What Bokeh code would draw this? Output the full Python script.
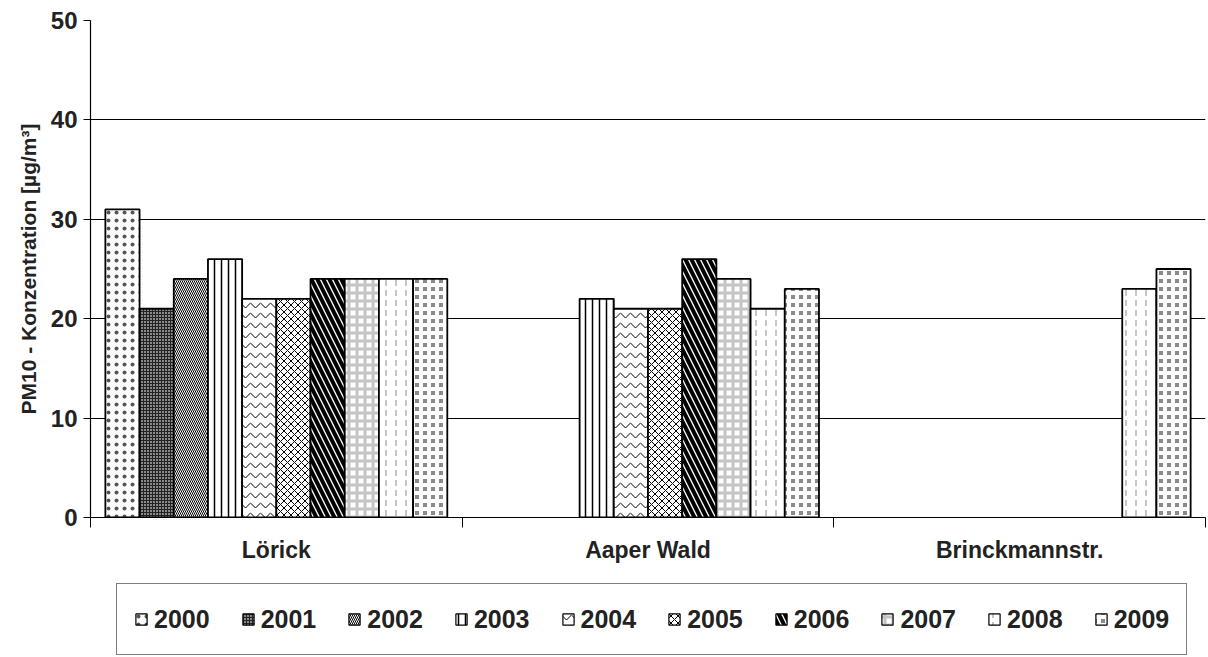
from bokeh.plotting import figure
from bokeh.layouts import column
from bokeh.models import (ColumnDataSource, Range1d, LinearAxis, FixedTicker, Legend, LegendItem)
from bokeh.transform import dodge
from bokeh.embed import file_html
from bokeh.resources import INLINE

sites = ["Lörick", "Aaper Wald", "Brinckmannstr."]
years = ["2000", "2001", "2002", "2003", "2004", "2005", "2006", "2007", "2008", "2009"]
loerick = [31, 21, 24, 26, 22, 22, 24, 24, 24, 24]
aaper_wald = [None, None, None, 22, 21, 21, 26, 24, 21, 23]
brinckmannstr = [None, None, None, None, None, None, None, None, 23, 25]
site_values = [loerick, aaper_wald, brinckmannstr]
y_ticks = [0, 10, 20, 30, 40, 50]

# fill_color, hatch_pattern, hatch_color, hatch_scale, hatch_weight
styles = [
    ("white", "dot", "#555555", 8, 1),
    ("#8a8a8a", "cross", "#222222", 3, 1),
    ("white", "left_diagonal_line", "black", 4, 1),
    ("white", "vertical_line", "black", 7, 1.5),
    ("white", "horizontal_wave", "black", 10, 1),
    ("white", "diagonal_cross", "black", 7, 1),
    ("white", "left_diagonal_line", "black", 12, 4),
    ("white", "cross", "#c4c4c4", 8, 3),
    ("white", "vertical_dash", "#a0a0a0", 10, 1.2),
    ("#8a8a8a", "cross", "white", 8, 4),
]

FONT = "Liberation Sans"
n_sites = len(sites)
centers = [i + 0.5 for i in range(n_sites)]

p = figure(width=1208, height=575, x_range=Range1d(0, n_sites),
           y_range=Range1d(0, 50), output_backend="svg", toolbar_location=None,
           x_axis_location=None, min_border_left=90, min_border_right=3, min_border_top=20,
           min_border_bottom=58)
p.outline_line_color = None
p.xgrid.grid_line_color = None
p.ygrid.grid_line_color = "black"
p.ygrid.grid_line_width = 1.2
p.ygrid.ticker = FixedTicker(ticks=y_ticks)

ya = p.yaxis[0]
ya.ticker = FixedTicker(ticks=y_ticks)
ya.axis_label = "PM10 - Konzentration [µg/m³]"
ya.axis_label_text_font = FONT
ya.axis_label_text_font_style = "bold"
ya.axis_label_text_font_size = "21px"
ya.axis_label_text_color = "#222222"
ya.axis_label_standoff = 8
ya.major_label_text_font = FONT
ya.major_label_text_font_style = "bold"
ya.major_label_text_font_size = "24px"
ya.major_label_text_color = "#222222"
ya.major_label_standoff = 6
ya.major_tick_out = 7
ya.major_tick_in = 0
ya.minor_tick_line_color = None
ya.axis_line_color = "black"
ya.axis_line_width = 1.2

n = len(years)
bw = 0.092
renderers = []
for j, yr in enumerate(years):
    xs, vs = [], []
    for c, vals in zip(centers, site_values):
        if vals[j] is not None:
            xs.append(c)
            vs.append(vals[j])
    src = ColumnDataSource(dict(pos=xs, value=vs))
    fc, hp, hc, hs, hw = styles[j]
    r = p.vbar(x=dodge("pos", (j - (n - 1) / 2) * bw), top="value",
               width=bw, source=src, fill_color=fc, line_color="black", line_width=1.8,
               hatch_pattern=hp, hatch_color=hc, hatch_scale=hs, hatch_weight=hw)
    renderers.append(r)

# boundary ticks between the site groups
bax = LinearAxis(ticker=FixedTicker(ticks=list(range(n_sites + 1))),
                 major_label_overrides={k: "" for k in range(n_sites + 1)},
                 major_label_text_font_size="1px", major_tick_out=10, major_tick_in=0,
                 minor_tick_line_color=None, axis_line_color="black", axis_line_width=1.2,
                 major_label_standoff=0)
p.add_layout(bax, "below")

cax = LinearAxis(ticker=FixedTicker(ticks=centers),
                 major_label_overrides={c: s for c, s in zip(centers, sites)},
                 axis_line_color=None, major_tick_line_color=None, minor_tick_line_color=None,
                 major_label_text_font=FONT,
                 major_label_text_font_style="bold", major_label_text_font_size="23px",
                 major_label_text_color="#222222", major_label_standoff=3)
p.add_layout(cax, "below")

# legend panel (separate figure below the chart); its proxy bars use the Lörick values
# but lie completely outside the visible ranges, so only the legend swatches are seen
lg = figure(width=1208, height=82, x_range=Range1d(100, 101), y_range=Range1d(100, 101),
            output_backend="svg", toolbar_location=None, x_axis_location=None,
            y_axis_location=None, min_border=0)
lg.outline_line_color = None
lg.grid.visible = False
lg_renderers = []
for j, yr in enumerate(years):
    fc, hp, hc, hs, hw = styles[j]
    lsrc = ColumnDataSource(dict(pos=[centers[0]], value=[loerick[j]]))
    lr = lg.vbar(x="pos", top="value", width=bw, source=lsrc, fill_color=fc,
                 line_color="black", line_width=1.2,
                 hatch_pattern=hp, hatch_color=hc, hatch_scale=hs, hatch_weight=hw)
    lg_renderers.append(lr)

legend = Legend(items=[LegendItem(label=yr, renderers=[r]) for yr, r in zip(years, lg_renderers)],
                orientation="horizontal", location=(26, 2),
                label_text_font=FONT, label_text_font_style="bold", label_text_font_size="25px",
                label_text_color="#222222", glyph_width=14, glyph_height=14, label_standoff=6,
                spacing=31, padding=17, label_height=36, border_line_color="black",
                border_line_width=1.5, margin=0)
lg.add_layout(legend, "center")

open("out.html", "w").write(file_html(column(p, lg, spacing=0), INLINE))
